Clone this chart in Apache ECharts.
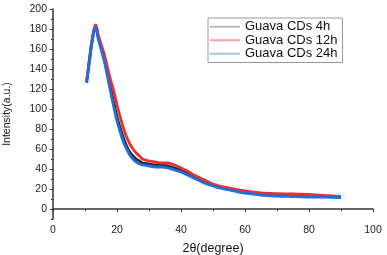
<!DOCTYPE html>
<html><head><meta charset="utf-8">
<script src="https://cdn.jsdelivr.net/npm/echarts@6/dist/echarts.min.js"></script>
<style>html,body{margin:0;padding:0;background:#fff}#c{width:387px;height:255px}</style>
</head><body><div id="c"></div>
<script>
const xDeg = [10.5, 11, 11.5, 12, 12.5, 13, 13.3, 13.7, 14, 15, 16, 17, 18, 19, 20, 21, 22, 23, 24, 25, 26, 27, 28, 30, 32, 34, 36, 38, 40, 42, 44, 46, 48, 50, 52, 55, 58, 60, 65, 70, 75, 80, 85, 90];
const cds4h = [127, 139, 152, 164, 174, 181, 183.5, 180, 174, 162, 151, 137, 121, 106, 92, 81, 71, 63, 57, 53, 50, 48, 46, 45, 44, 44, 43, 41, 39, 36, 32, 29, 26, 24, 22, 20, 18, 17, 15, 14, 13.5, 13, 12.5, 12];
const cds12h = [128, 140, 153, 165, 175, 182, 184, 181, 176, 165, 155, 142, 129, 118, 104, 92, 81, 72, 65, 60, 56, 53, 50, 48, 47, 46, 46, 44, 41, 38, 34, 31, 28, 25, 23, 21, 19, 18, 16, 15.3, 15, 14.5, 13.5, 12.7];
const cds24h = [126, 138, 150, 162, 172, 180, 182, 178, 172, 160, 148, 133, 117, 102, 88, 77, 67, 60, 54, 50, 47, 45, 44, 43, 42, 42, 41, 39, 37, 34, 31, 28, 25, 23, 21, 19, 17, 16, 14, 13, 12.5, 12, 12, 11.5];
const seriesNames = ['Guava CDs 4h', 'Guava CDs 12h', 'Guava CDs 24h'];
const yMajor = [0, 20, 40, 60, 80, 100, 120, 140, 160, 180, 200];
const yMinor = [-10, 10, 30, 50, 70, 90, 110, 130, 150, 170, 190];

const colors = ['#2b2b2b', '#e8312e', '#1f6fdc'];
const legendColors = ['#b8b8b8', '#f0a0a8', '#a8c4d8'];
const pair = arr => xDeg.map((x, i) => [x, arr[i]]);
const font = 'Liberation Sans, Arial, sans-serif';

const chart = echarts.init(document.getElementById('c'));
chart.setOption({
  animation: false,
  grid: {left: 53, right: 14, top: 9, bottom: 36, outerBoundsMode: 'none', containLabel: false},
  legend: {
    left: 208, top: 18, orient: 'vertical',
    borderColor: '#999', borderWidth: 1, padding: [2, 5, 2, 2],
    itemWidth: 30, itemHeight: 2, itemGap: 0, icon: 'rect',
    textStyle: {fontFamily: font, fontSize: 13, color: '#111', lineHeight: 13.5},
    data: seriesNames.map((n, i) => ({name: n, itemStyle: {color: legendColors[i]}}))
  },
  xAxis: {
    type: 'value', min: 0, max: 100, interval: 20,
    name: '2θ(degree)', nameLocation: 'middle', nameGap: 23,
    nameTextStyle: {fontFamily: font, fontSize: 12.5, color: '#111'},
    axisLine: {lineStyle: {color: '#333', width: 1.5}},
    axisTick: {length: 3, lineStyle: {color: '#333'}},
    minorTick: {show: true, splitNumber: 2, length: 2, lineStyle: {color: '#333'}},
    axisLabel: {fontFamily: font, fontSize: 10.5, color: '#222', margin: 6},
    splitLine: {show: false}
  },
  yAxis: [{
    type: 'value', min: -10, max: 200,
    name: 'Intensity(a.u.)', nameLocation: 'middle', nameGap: 40,
    nameTextStyle: {fontFamily: font, fontSize: 10.5, color: '#111'},
    axisLine: {show: true, lineStyle: {color: '#333', width: 1.5}},
    axisTick: {show: true, length: 3, customValues: yMajor, lineStyle: {color: '#333'}},
    axisLabel: {fontFamily: font, fontSize: 10.5, color: '#222', margin: 6, customValues: yMajor},
    splitLine: {show: false}
  }, {
    type: 'value', min: -10, max: 200, position: 'left',
    axisLine: {show: false},
    axisTick: {show: true, length: 2, customValues: yMinor, lineStyle: {color: '#333'}},
    axisLabel: {show: false},
    splitLine: {show: false}
  }],
  series: [cds4h, cds12h, cds24h].map((arr, i) => ({
    name: seriesNames[i], type: 'line', data: pair(arr), yAxisIndex: 0,
    showSymbol: false, symbol: 'none', smooth: 0.3,
    lineStyle: {color: colors[i], width: 2.8}, itemStyle: {color: colors[i]}
  }))
});
</script></body></html>
